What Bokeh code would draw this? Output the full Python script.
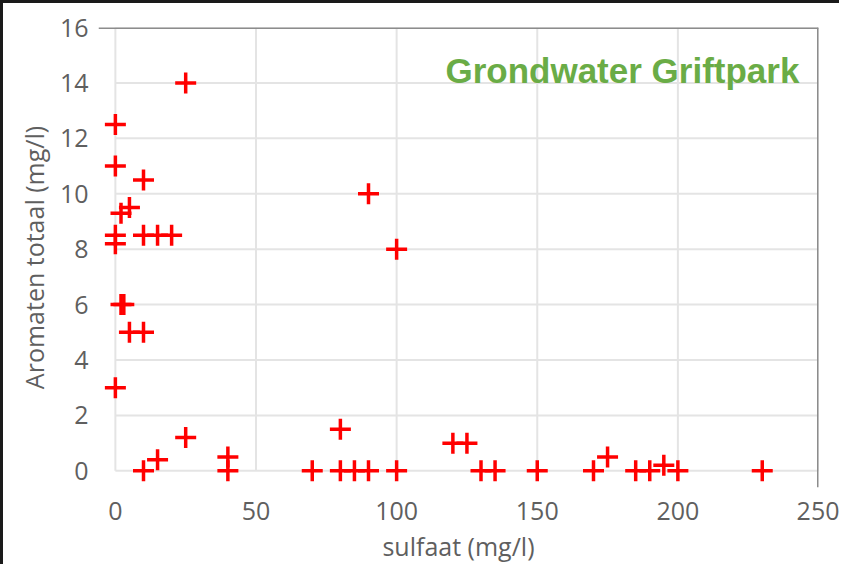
from bokeh.plotting import figure
from bokeh.models import Range1d, FixedTicker, Label, Span
from bokeh.embed import file_html
from bokeh.resources import INLINE

# data
sulfaat = [25, 0, 0, 10, 2, 5, 0, 0, 10, 15, 20, 90, 100,
           2, 3, 5, 10, 0, 10, 15, 25, 40, 40, 70, 80, 80, 85, 90, 100,
           120, 125, 130, 135, 150, 170, 175, 185, 190, 195, 200, 230]
aromaten = [14, 12.5, 11, 10.5, 9.3, 9.5, 8.5, 8.2, 8.5, 8.5, 8.5, 10, 8,
            6, 6, 5, 5, 3, 0, 0.4, 1.2, 0.5, 0, 0, 1.5, 0, 0, 0, 0,
            1, 1, 0, 0, 0, 0, 0.5, 0, 0, 0.2, 0, 0]
x_ticks = [0, 50, 100, 150, 200, 250]
y_ticks = [0, 2, 4, 6, 8, 10, 12, 14, 16]
title_text = "Grondwater Griftpark"

x_min, x_max = x_ticks[0], x_ticks[-1]
y_min, y_max = y_ticks[0], y_ticks[-1]

p = figure(width=839, height=564, output_backend="svg", toolbar_location=None,
           x_range=Range1d(x_min - 6, x_max), y_range=Range1d(y_min - 0.6, y_max),
           min_border_left=95, min_border_right=24, min_border_top=24,
           min_border_bottom=80)
p.styles = {"border-left": "3px solid #1a1a1a", "border-top": "3px solid #1a1a1a"}
p.outline_line_color = None
p.background_fill_color = "white"
p.border_fill_color = "white"

for ax in (p.xaxis[0], p.yaxis[0]):
    ax.axis_line_color = None
    ax.major_tick_line_color = None
    ax.minor_tick_line_color = None
    ax.major_label_text_font = "Open Sans"
    ax.major_label_text_font_size = "25px"
    ax.major_label_text_color = "#5f5f5f"
    ax.axis_label_text_font = "Open Sans"
    ax.axis_label_text_font_size = "25px"
    ax.axis_label_text_font_style = "normal"
    ax.axis_label_text_color = "#5f5f5f"

p.xaxis.ticker = FixedTicker(ticks=x_ticks)
p.yaxis.ticker = FixedTicker(ticks=y_ticks)
p.xaxis.major_label_standoff = 8
p.yaxis.major_label_standoff = 4
p.xaxis.axis_label = "sulfaat (mg/l)"
p.yaxis.axis_label = "Aromaten totaal (mg/l)"
p.xaxis.axis_label_standoff = 6
p.yaxis.axis_label_standoff = 6

p.grid.visible = False
grid_color = "#e4e4e4"
p.segment(x0=x_ticks, y0=[y_min] * len(x_ticks), x1=x_ticks, y1=[y_max] * len(x_ticks),
          line_color=grid_color, line_width=2)
p.segment(x0=[x_min] * len(y_ticks), y0=y_ticks, x1=[x_max] * len(y_ticks), y1=y_ticks,
          line_color=grid_color, line_width=2)

p.add_layout(Span(location=y_max, dimension="width", line_color="#8c8c8c", line_width=3))
p.add_layout(Span(location=x_max, dimension="height", line_color="#8c8c8c", line_width=3))

p.scatter(sulfaat, aromaten, marker="cross", size=21, line_width=3.5, color="#ff0000")

p.add_layout(Label(x=243.2, y=14.45, text=title_text, text_align="right",
                   text_baseline="middle", text_font="Liberation Sans",
                   text_font_style="bold", text_font_size="35px",
                   text_color="#6aac46"))

open("out.html", "w").write(file_html(p, INLINE))
